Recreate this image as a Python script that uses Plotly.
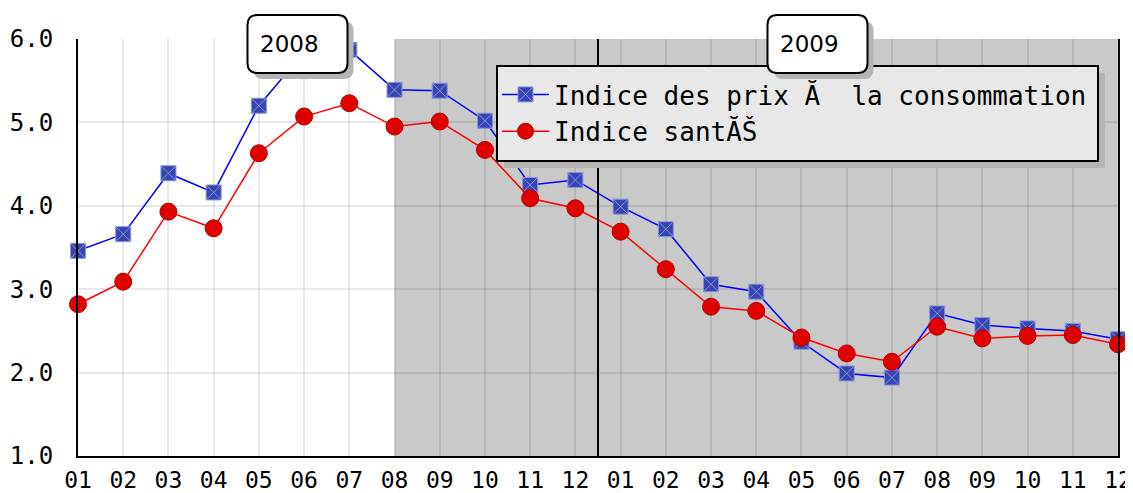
import plotly.graph_objects as go

# ---- data ----
months = ["01", "02", "03", "04", "05", "06", "07", "08", "09", "10", "11", "12",
          "01", "02", "03", "04", "05", "06", "07", "08", "09", "10", "11", "12"]
years = ["2008", "2009"]
cpi = [3.46, 3.66, 4.39, 4.16, 5.20, 5.84, 5.87, 5.39, 5.38, 5.02, 4.25, 4.31,
       3.99, 3.72, 3.06, 2.97, 2.37, 1.99, 1.94, 2.71, 2.57, 2.53, 2.50, 2.40]
sante = [2.82, 3.09, 3.93, 3.73, 4.63, 5.07, 5.23, 4.95, 5.01, 4.67, 4.09, 3.97,
         3.69, 3.24, 2.79, 2.74, 2.42, 2.23, 2.13, 2.55, 2.41, 2.44, 2.45, 2.34]
series_names = ["Indice des prix Ă\u00a0 la consommation", "Indice santĂŠ"]
y_ticks = [1.0, 2.0, 3.0, 4.0, 5.0, 6.0]

x = list(range(len(months)))
# page body has an 8px margin; compensate so the plot lands where intended
OFF = 8
W, H = 1133 - OFF, 493 - OFF
ML, MR, MT, MB = 78 - OFF, 15, 39 - OFF, 37
PW, PH = W - ML - MR, H - MT - MB

def px_x(p):  # page pixel -> paper fraction
    return (p - OFF - ML) / PW

def px_y(p):
    return 1 - (p - OFF - MT) / PH

fig = go.Figure()
fig.add_trace(go.Scatter(
    x=x, y=cpi, name=series_names[0], mode="lines+markers",
    line=dict(color="#0000ff", width=1.5),
    marker=dict(symbol="square-x", size=15, color="#3644b4",
                line=dict(color="#8c94d8", width=1)),
    cliponaxis=False,
))
fig.add_trace(go.Scatter(
    x=x, y=sante, name=series_names[1], mode="lines+markers",
    line=dict(color="#ff0000", width=1.5),
    marker=dict(symbol="circle", size=17, color="#e00000",
                line=dict(color="#b00000", width=1)),
    cliponaxis=False,
))

shapes = [
    # shaded band
    dict(type="rect", xref="x", yref="paper", x0=7, x1=23, y0=0, y1=1,
         fillcolor="#c9c9c9", line=dict(width=0), layer="below"),
    # year separator
    dict(type="line", xref="x", yref="paper", x0=11.5, x1=11.5, y0=0, y1=1,
         line=dict(color="black", width=2), layer="above"),
    # legend shadow
    dict(type="rect", xref="paper", yref="paper",
         x0=px_x(504), x1=px_x(1105), y0=px_y(168), y1=px_y(73),
         fillcolor="#b4b4b4", line=dict(width=0), layer="above"),
    # legend box
    dict(type="rect", xref="paper", yref="paper",
         x0=px_x(497), x1=px_x(1098), y0=px_y(161), y1=px_y(66),
         fillcolor="#e8e8e8", line=dict(color="black", width=2), layer="above"),
]

hw, hh, r = 50, 29, 10
box_path = (f"M {-hw+r},{-hh} L {hw-r},{-hh} Q {hw},{-hh} {hw},{-hh+r} "
            f"L {hw},{hh-r} Q {hw},{hh} {hw-r},{hh} L {-hw+r},{hh} "
            f"Q {-hw},{hh} {-hw},{hh-r} L {-hw},{-hh+r} Q {-hw},{-hh} {-hw+r},{-hh} Z")
box_centers = [(297.5, 44), (817.5, 44)]
for cx, cy in box_centers:
    shapes.append(dict(type="path", xref="paper", yref="paper",
                       xsizemode="pixel", ysizemode="pixel",
                       xanchor=px_x(cx + 6), yanchor=px_y(cy + 6),
                       path=box_path, fillcolor="#b4b4b4",
                       line=dict(width=0), layer="above"))
    shapes.append(dict(type="path", xref="paper", yref="paper",
                       xsizemode="pixel", ysizemode="pixel",
                       xanchor=px_x(cx), yanchor=px_y(cy),
                       path=box_path, fillcolor="white",
                       line=dict(color="black", width=2), layer="above"))

annotations = []
for (cx, cy), yr in zip(box_centers, years):
    annotations.append(dict(text=yr, xref="paper", yref="paper",
                            x=px_x(cx - 8), y=px_y(cy), showarrow=False,
                            xanchor="center", yanchor="middle",
                            font=dict(family="DejaVu Sans", size=23, color="black")))

fig.update_layout(
    width=W, height=H,
    margin=dict(l=ML, r=MR, t=MT, b=MB, pad=0, autoexpand=False),
    paper_bgcolor="white", plot_bgcolor="white",
    showlegend=True,
    legend=dict(x=px_x(497), y=px_y(71), xanchor="left", yanchor="top",
                bgcolor="rgba(0,0,0,0)", borderwidth=0,
                font=dict(family="DejaVu Sans Mono", size=26, color="black"),
                itemwidth=47, tracegroupgap=0, itemsizing="trace"),
    shapes=shapes, annotations=annotations,
    xaxis=dict(range=[0, 23], tickmode="array", tickvals=x, ticktext=months,
               automargin=False,
               showgrid=True, gridcolor="rgba(0,0,0,0.09)", gridwidth=1.5,
               showline=True, linecolor="black", linewidth=2, mirror=False,
               zeroline=False, ticks="outside", ticklen=2, tickcolor="rgba(0,0,0,0)",
               tickfont=dict(family="DejaVu Sans Mono", size=23, color="black")),
    yaxis=dict(range=[1, 6], tickmode="array", tickvals=y_ticks, tickformat=".1f",
               automargin=False,
               showgrid=True, gridcolor="rgba(0,0,0,0.09)", gridwidth=1.5,
               showline=True, linecolor="black", linewidth=2, mirror=True,
               zeroline=False, ticks="outside", ticklen=18, tickcolor="rgba(0,0,0,0)",
               tickfont=dict(family="DejaVu Sans Mono", size=24, color="black")),
)

fig.write_html("out.html")
